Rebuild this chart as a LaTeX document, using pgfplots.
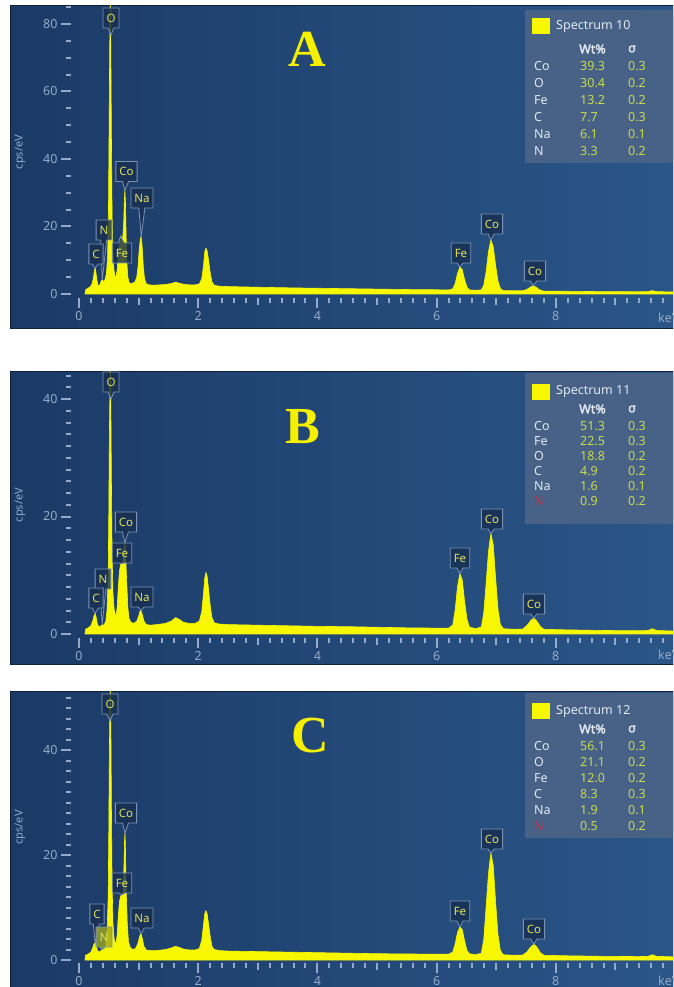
\documentclass[border=0pt]{standalone}
\usepackage{fontspec}
\setmainfont{Noto Sans}
\newfontfamily\nsbold{Noto Sans}[FakeBold=2.2]
\newfontfamily\serifbold{Liberation Serif}
\usepackage{pgfplots}
\pgfplotsset{compat=1.18}
\usetikzlibrary{shapes.callouts}
\definecolor{bgL}{HTML}{1B3A66}
\definecolor{bgR}{HTML}{2A5688}
\definecolor{framec}{HTML}{0E213C}
\definecolor{tickc}{HTML}{95AAC6}
\definecolor{spec}{HTML}{F7F700}
\definecolor{lblfill}{HTML}{172E50}
\definecolor{lbldraw}{HTML}{7A93B5}
\definecolor{lbltext}{HTML}{E2E35A}
\definecolor{legfill}{HTML}{4A6487}
\definecolor{valc}{HTML}{C9D94C}
\definecolor{elc}{HTML}{E3E9F1}
\definecolor{redN}{HTML}{C72B3E}
\definecolor{bigY}{HTML}{F5F000}

\pgfplotsset{
  edsstyle/.style={
    scale only axis, axis line style={draw=none},
    tick align=outside, xtick pos=left, ytick pos=left,
    xmin=-0.134, xmax=9.966,
    xtick={0,2,4,6,8},
    minor xtick={0,0.2,...,9.9},
    extra x ticks={1,3,5,7,9}, extra x tick labels={},
    extra x tick style={major tick length=7pt},
    major tick length=10pt, minor tick length=5pt,
    tick style={tickc, line width=2pt},
    tick label style={font=\fontsize{12.5}{14}\selectfont, color=tickc},
    /pgf/number format/assume math mode=true,
    clip=true,
    ylabel={cps/eV},
    y label style={font=\fontsize{11}{13}\selectfont, color=tickc, at={(axis description cs:0,0.5)}, anchor=center, yshift=51pt},
  },
}
\tikzset{
  lbl/.style={rectangle callout, draw=lbldraw, fill=lblfill, fill opacity=0.8, text opacity=1, text=lbltext,
    font=\fontsize{11.5}{13}\selectfont, inner xsep=3.5pt, inner ysep=3pt, minimum height=20pt,
    callout pointer width=6pt, line width=0.8pt},
  leg/.style={anchor=west, inner sep=0pt, font=\fontsize{12.5}{14}\selectfont},
}

\begin{document}
\begin{tikzpicture}[x=1pt,y=1pt]
\useasboundingbox (0,0) rectangle (673,987);
\clip (0,0) rectangle (673,987);
\fill[white] (0,0) rectangle (673,987);
% ---------- panel frames
\shade[left color=bgL, right color=bgR] (10,658) rectangle (673,981);
\shade[left color=bgL, right color=bgR] (10,322) rectangle (673,615);
\shade[left color=bgL, right color=bgR] (10,0) rectangle (673,295);
\draw[framec, line width=1pt] (10,658) rectangle (673,981);
\draw[framec, line width=1pt] (10,322) rectangle (673,615);
\draw[framec, line width=1pt] (10,-2) rectangle (673,295);

% ================= Panel A
\begin{axis}[edsstyle, at={(71pt,689pt)}, anchor=south west, width=602pt, height=292pt,
  ymin=-1.185, ymax=85.33, ytick={0,20,40,60,80}, minor ytick={0,5,...,85}]
\addplot[draw=spec, fill=spec, line width=0.6pt, line join=round] coordinates {
(0.10,0) (0.11,1.2) (0.14,1.6) (0.17,1.9) (0.20,2.4) (0.22,3.0) (0.24,4.6) (0.26,7.0) (0.27,7.7) (0.28,7.0)
(0.30,4.2) (0.32,2.6) (0.34,2.4) (0.36,3.2) (0.38,4.2) (0.40,4.0) (0.42,3.6) (0.44,4.5) (0.46,6) (0.48,11)
(0.495,25) (0.505,48) (0.515,72) (0.525,88) (0.535,70) (0.545,45) (0.555,24) (0.57,12) (0.585,7.5) (0.60,5.5)
(0.62,5.0) (0.64,7) (0.66,12) (0.68,15.5) (0.70,17.2) (0.72,16.5) (0.735,16.8) (0.75,21) (0.76,27) (0.77,30.8)
(0.78,27) (0.79,18) (0.80,10) (0.82,5) (0.84,3.5) (0.86,3.0) (0.90,3.2) (0.94,3.6) (0.97,5) (0.99,8)
(1.01,13) (1.03,16.5) (1.045,17) (1.06,14) (1.08,8) (1.10,4.5) (1.13,3.0) (1.18,2.7) (1.25,2.6) (1.35,2.7)
(1.45,2.8) (1.55,3.1) (1.62,3.5) (1.68,3.2) (1.75,2.9) (1.85,2.7) (1.95,2.7) (2.02,3.0) (2.06,4.5) (2.09,8.5)
(2.11,12.5) (2.13,13.6) (2.15,12.8) (2.17,10.5) (2.20,6.5) (2.23,3.6) (2.27,2.6) (2.35,2.3) (2.5,2.2) (2.75,2.1)
(3.0,2.0) (3.3,1.9) (3.6,1.8) (4.0,1.7) (4.4,1.6) (4.8,1.5) (5.2,1.4) (5.6,1.3) (6.0,1.25) (6.2,1.2)
(6.27,1.5) (6.31,3) (6.35,6) (6.39,8) (6.43,7.2) (6.47,4.2) (6.51,2.0) (6.55,1.2) (6.65,1.1) (6.75,1.2)
(6.79,2.5) (6.83,6.5) (6.87,12.5) (6.91,16) (6.95,14) (6.99,8.5) (7.03,3.8) (7.07,1.6) (7.12,1.0) (7.3,0.95)
(7.45,0.95) (7.52,1.4) (7.58,2.1) (7.62,2.4) (7.67,2.0) (7.73,1.2) (7.8,0.85) (8.2,0.8) (8.8,0.7) (9.4,0.65)
(9.55,0.7) (9.62,1.0) (9.69,0.7) (9.966,0.6) (9.966,0)
} \closedcycle;
\coordinate (A-Co) at (axis cs:0.77,30.8);
\coordinate (A-Na) at (axis cs:1.045,17);
\coordinate (A-N) at (axis cs:0.39,4.2);
\coordinate (A-C) at (axis cs:0.27,7.7);
\coordinate (A-Fe) at (axis cs:0.70,17.2);
\coordinate (A-FeK) at (axis cs:6.39,8);
\coordinate (A-CoK) at (axis cs:6.91,16);
\coordinate (A-CoKb) at (axis cs:7.62,2.4);
\end{axis}

% ================= Panel B
\begin{axis}[edsstyle, at={(71pt,349pt)}, anchor=south west, width=602pt, height=266pt,
  ymin=-0.68, ymax=44.6, ytick={0,20,40}, minor ytick={0,2,...,44}]
\addplot[draw=spec, fill=spec, line width=0.6pt, line join=round] coordinates {
(0.10,0) (0.11,0.8) (0.15,1.0) (0.20,1.4) (0.23,2.2) (0.25,3.0) (0.27,3.5) (0.29,2.8) (0.31,1.6) (0.34,1.2)
(0.37,1.4) (0.39,1.6) (0.42,1.5) (0.45,2.2) (0.47,4) (0.49,10) (0.50,20) (0.51,34) (0.52,42) (0.525,47)
(0.535,38) (0.545,25) (0.555,14) (0.57,7) (0.59,4.2) (0.61,3.3) (0.625,3.2) (0.64,4.5) (0.66,8) (0.68,10.8)
(0.70,11.8) (0.72,12.0) (0.74,12.6) (0.76,15.2) (0.77,15.6) (0.78,14.0) (0.80,9) (0.82,4.5) (0.84,2.6) (0.87,2.0)
(0.92,1.8) (0.97,2.2) (1.00,3.0) (1.02,3.8) (1.04,4.0) (1.06,3.4) (1.09,2.2) (1.13,1.6) (1.2,1.5) (1.3,1.6)
(1.45,1.8) (1.55,2.2) (1.62,2.8) (1.68,2.5) (1.75,2.0) (1.85,1.8) (1.95,1.8) (2.02,2.2) (2.06,3.8) (2.09,7)
(2.11,9.5) (2.13,10.5) (2.15,9.8) (2.17,8) (2.20,5) (2.23,2.8) (2.27,1.9) (2.35,1.7) (2.5,1.6) (3.0,1.5)
(3.5,1.4) (4.0,1.3) (4.5,1.25) (5.0,1.15) (5.5,1.05) (6.0,1.0) (6.2,1.0) (6.27,1.5) (6.31,4) (6.35,8)
(6.39,10.3) (6.43,9.2) (6.47,5.5) (6.51,2.5) (6.55,1.2) (6.65,0.9) (6.75,1.2) (6.79,3.5) (6.83,8.5) (6.87,14)
(6.91,17.1) (6.95,15.2) (6.99,9.5) (7.03,4.2) (7.07,1.6) (7.12,0.9) (7.3,0.8) (7.45,0.85) (7.52,1.5) (7.58,2.3)
(7.63,2.7) (7.68,2.2) (7.74,1.3) (7.8,0.8) (8.2,0.7) (8.8,0.6) (9.4,0.55) (9.55,0.6) (9.62,0.9) (9.69,0.6)
(9.966,0.5) (9.966,0)
} \closedcycle;
\coordinate (B-Co) at (axis cs:0.77,15.6);
\coordinate (B-Fe) at (axis cs:0.72,12);
\coordinate (B-N) at (axis cs:0.39,1.6);
\coordinate (B-C) at (axis cs:0.27,3.5);
\coordinate (B-Na) at (axis cs:1.04,4);
\coordinate (B-FeK) at (axis cs:6.39,10.3);
\coordinate (B-CoK) at (axis cs:6.91,17.1);
\coordinate (B-CoKb) at (axis cs:7.63,2.7);
\end{axis}

% ================= Panel C
\begin{axis}[edsstyle, at={(71pt,24pt)}, anchor=south west, width=602pt, height=271pt,
  ymin=-0.571, ymax=51.05, ytick={0,20,40}, minor ytick={0,2,...,50}]
\addplot[draw=spec, fill=spec, line width=0.6pt, line join=round] coordinates {
(0.10,0) (0.11,0.9) (0.15,1.1) (0.20,1.5) (0.23,2.3) (0.25,3.0) (0.27,3.3) (0.29,2.8) (0.31,1.8) (0.34,1.5)
(0.37,1.8) (0.39,2.0) (0.42,2.0) (0.45,2.8) (0.47,5) (0.49,12) (0.50,24) (0.51,40) (0.52,49) (0.525,53)
(0.535,44) (0.545,28) (0.555,15) (0.57,7) (0.59,4) (0.61,3.3) (0.625,3.2) (0.64,4.8) (0.66,8.5) (0.68,11.2)
(0.70,12.2) (0.72,12.4) (0.74,13) (0.755,18) (0.765,23) (0.772,24.2) (0.78,21) (0.79,14) (0.81,7) (0.83,3.5)
(0.86,2.4) (0.9,2.0) (0.95,2.2) (0.99,3.2) (1.02,4.6) (1.04,5.0) (1.06,4.2) (1.09,2.6) (1.13,1.9) (1.2,1.8)
(1.3,1.8) (1.45,2.0) (1.55,2.3) (1.62,2.6) (1.68,2.4) (1.75,2.1) (1.85,1.9) (1.95,1.9) (2.02,2.2) (2.06,3.8)
(2.09,6.8) (2.11,8.8) (2.13,9.4) (2.15,8.8) (2.17,7.2) (2.20,4.6) (2.23,2.6) (2.27,2.0) (2.35,1.8) (2.5,1.7)
(3,1.6) (3.5,1.5) (4,1.4) (4.5,1.3) (5,1.2) (5.5,1.15) (6,1.1) (6.2,1.1) (6.27,1.5) (6.31,3)
(6.35,5.2) (6.39,6.3) (6.43,5.8) (6.47,3.6) (6.51,1.8) (6.55,1.2) (6.65,1.0) (6.75,1.3) (6.79,3.8) (6.83,10)
(6.87,16.5) (6.91,20.4) (6.95,18) (6.99,11) (7.03,4.8) (7.07,1.8) (7.12,1.0) (7.3,0.9) (7.45,0.95) (7.52,1.6)
(7.58,2.5) (7.63,3.0) (7.68,2.5) (7.74,1.4) (7.8,0.9) (8.2,0.8) (8.8,0.7) (9.4,0.65) (9.55,0.7) (9.62,1.0)
(9.69,0.7) (9.966,0.6) (9.966,0)
} \closedcycle;
\coordinate (C-Co) at (axis cs:0.772,24.2);
\coordinate (C-Fe) at (axis cs:0.72,12.4);
\coordinate (C-C) at (axis cs:0.27,3.3);
\coordinate (C-N) at (axis cs:0.39,2.0);
\coordinate (C-Na) at (axis cs:1.04,5);
\coordinate (C-FeK) at (axis cs:6.39,6.3);
\coordinate (C-CoK) at (axis cs:6.91,20.4);
\coordinate (C-CoKb) at (axis cs:7.63,3.0);
\end{axis}

% ---------- keV labels (cut at right edge)
\node[anchor=west, inner sep=0pt, font=\fontsize{12.5}{14}\selectfont, text=tickc] at (658,669) {keV};
\node[anchor=west, inner sep=0pt, font=\fontsize{12.5}{14}\selectfont, text=tickc] at (658,332) {keV};
\node[anchor=west, inner sep=0pt, font=\fontsize{12.5}{14}\selectfont, text=tickc] at (658,6) {keV};

% ---------- element labels, panel A
\node[lbl, callout relative pointer={(0,-7pt)}] at (111,969) {O};
\node[lbl, callout absolute pointer={(A-Co)}] at (126.5,815.5) {Co};
\node[lbl, callout absolute pointer={(A-Na)}] at (142,789) {Na};
\node[lbl, callout absolute pointer={(A-N)}] at (104,757) {N};
\node[lbl, callout absolute pointer={(A-C)}] at (96,733) {C};
\node[lbl, callout absolute pointer={(A-Fe)}] at (122,734) {Fe};
\node[lbl, callout absolute pointer={(A-FeK)}] at (461,734) {Fe};
\node[lbl, callout absolute pointer={(A-CoK)}] at (492,763) {Co};
\node[lbl, callout absolute pointer={(A-CoKb)}] at (535,716) {Co};
% panel B
\node[lbl, callout relative pointer={(0,-7pt)}] at (111,605) {O};
\node[lbl, callout absolute pointer={(B-Co)}] at (126,465) {Co};
\node[lbl, callout absolute pointer={(B-Fe)}] at (122,434) {Fe};
\node[lbl, callout absolute pointer={(B-N)}] at (103,408) {N};
\node[lbl, callout absolute pointer={(B-C)}] at (96,389) {C};
\node[lbl, callout absolute pointer={(B-Na)}] at (142,390) {Na};
\node[lbl, callout absolute pointer={(B-FeK)}] at (460,429) {Fe};
\node[lbl, callout absolute pointer={(B-CoK)}] at (492,468) {Co};
\node[lbl, callout absolute pointer={(B-CoKb)}] at (534,383) {Co};
% panel C
\node[lbl, callout relative pointer={(0,-7pt)}] at (110,283) {O};
\node[lbl, callout absolute pointer={(C-Co)}] at (126,174) {Co};
\node[lbl, callout absolute pointer={(C-Fe)}] at (122,104) {Fe};
\node[lbl, callout absolute pointer={(C-C)}] at (97,73) {C};
\node[lbl, callout absolute pointer={(C-N)}, fill=spec!60!lblfill] at (104,50) {N};
\node[lbl, callout absolute pointer={(C-Na)}] at (142,69) {Na};
\node[lbl, callout absolute pointer={(C-FeK)}] at (460,76) {Fe};
\node[lbl, callout absolute pointer={(C-CoK)}] at (492,148) {Co};
\node[lbl, callout absolute pointer={(C-CoKb)}] at (534,58) {Co};

% ---------- big letters
\node[text=bigY, font=\serifbold\bfseries\fontsize{52}{52}\selectfont, inner sep=0pt] at (307,938) {A};
\node[text=bigY, font=\serifbold\bfseries\fontsize{52}{52}\selectfont, inner sep=0pt] at (303,560) {B};
\node[text=bigY, font=\serifbold\bfseries\fontsize{52}{52}\selectfont, inner sep=0pt] at (310,251) {C};

% ---------- legend A
\fill[legfill, fill opacity=0.92] (525,824) rectangle (680,977);
\fill[spec] (532,953) rectangle (550,969);
\node[leg, text=elc] at (556,961) {Spectrum 10};
\node[leg, text=elc] at (579,938) {\nsbold Wt\%};
\node[leg, text=elc] at (628,938) {\nsbold σ};
\foreach \el/\v/\s/\y in {Co/39.3/0.3/921, O/30.4/0.2/904, Fe/13.2/0.2/887, C/7.7/0.3/870, Na/6.1/0.1/853, N/3.3/0.2/836}{
  \node[leg, text=elc] at (534,\y) {\el};
  \node[leg, text=valc] at (580,\y) {\v};
  \node[leg, text=valc] at (628,\y) {\s};
}
% ---------- legend B
\fill[legfill, fill opacity=0.92] (525,463) rectangle (680,614);
\fill[spec] (532,587) rectangle (550,603);
\node[leg, text=elc] at (556,596) {Spectrum 11};
\node[leg, text=elc] at (579,578) {\nsbold Wt\%};
\node[leg, text=elc] at (628,578) {\nsbold σ};
\foreach \el/\v/\s/\y in {Co/51.3/0.3/561, Fe/22.5/0.3/546, O/18.8/0.2/531, C/4.9/0.2/516, Na/1.6/0.1/501}{
  \node[leg, text=elc] at (534,\y) {\el};
  \node[leg, text=valc] at (580,\y) {\v};
  \node[leg, text=valc] at (628,\y) {\s};
}
\node[leg, text=redN] at (534,486) {N};
\node[leg, text=valc] at (580,486) {0.9};
\node[leg, text=valc] at (628,486) {0.2};
% ---------- legend C
\fill[legfill, fill opacity=0.92] (525,149) rectangle (680,294);
\fill[spec] (532,268) rectangle (550,284);
\node[leg, text=elc] at (556,276) {Spectrum 12};
\node[leg, text=elc] at (579,258) {\nsbold Wt\%};
\node[leg, text=elc] at (628,258) {\nsbold σ};
\foreach \el/\v/\s/\y in {Co/56.1/0.3/241, O/21.1/0.2/225, Fe/12.0/0.2/209, C/8.3/0.3/193, Na/1.9/0.1/177}{
  \node[leg, text=elc] at (534,\y) {\el};
  \node[leg, text=valc] at (580,\y) {\v};
  \node[leg, text=valc] at (628,\y) {\s};
}
\node[leg, text=redN] at (534,161) {N};
\node[leg, text=valc] at (580,161) {0.5};
\node[leg, text=valc] at (628,161) {0.2};
\end{tikzpicture}
\end{document}
